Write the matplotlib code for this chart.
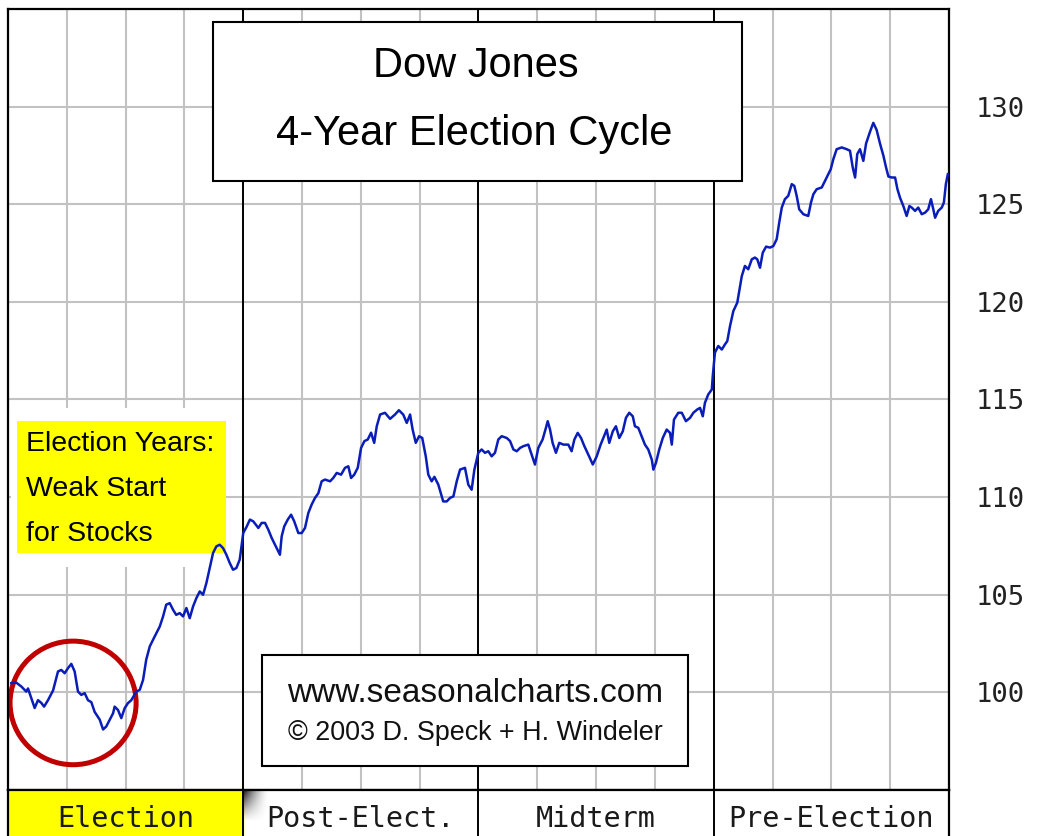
import matplotlib.pyplot as plt
from matplotlib.patches import Rectangle, Ellipse
import numpy as np

# Dow Jones average path over the 4-year cycle (x = months since start of election year)
election_m = [0.17, 0.42, 0.68, 0.93, 1.02, 1.19, 1.36, 1.53, 1.70, 1.84, 2.04, 2.30, 2.55, 2.72, 2.89,
              3.06, 3.23, 3.40, 3.57, 3.74, 3.91, 4.08, 4.25, 4.42, 4.68, 4.85, 5.01, 5.19, 5.36, 5.44,
              5.61, 5.78, 5.95, 6.12, 6.29, 6.54, 6.72, 6.89, 7.05, 7.23, 7.48, 7.74, 7.91, 8.07, 8.25,
              8.42, 8.58, 8.76, 8.93, 9.10, 9.27, 9.44, 9.61, 9.78, 9.95, 10.12, 10.29, 10.46, 10.63,
              10.80, 10.97, 11.14, 11.31, 11.48, 11.65, 11.82]
election_v = [100.47, 100.5, 100.3, 100.04, 100.2, 99.7, 99.2, 99.6, 99.46, 99.27, 99.6, 100.1, 101.07,
              101.15, 100.98, 101.24, 101.46, 101.07, 100.04, 99.87, 99.96, 99.6, 99.5, 99.0, 98.6, 98.1,
              98.25, 98.6, 98.93, 99.27, 99.1, 98.68, 99.19, 99.45, 99.6, 100.04, 100.13, 100.64, 101.67,
              102.35, 102.86, 103.37, 103.89, 104.49, 104.57, 104.23, 103.97, 104.06, 103.89, 104.32,
              103.8, 104.4, 104.83, 105.17, 105.0, 105.6, 106.37, 107.14, 107.48, 107.56, 107.39, 107.05,
              106.63, 106.28, 106.37, 106.8]

post_m = [12.00, 12.18, 12.34, 12.51, 12.77, 12.94, 13.11, 13.28, 13.45, 13.62, 13.79, 13.87, 13.96,
          14.09, 14.27, 14.44, 14.60, 14.81, 14.98, 15.15, 15.32, 15.49, 15.66, 15.83, 16.00, 16.17,
          16.43, 16.59, 16.77, 16.99, 17.19, 17.36, 17.50, 17.66, 17.84, 18.01, 18.18, 18.35, 18.52,
          18.68, 18.81, 18.98, 19.23, 19.49, 19.74, 19.94, 20.16, 20.34, 20.51, 20.64, 20.80, 20.97,
          21.13, 21.31, 21.44, 21.61, 21.75, 21.95, 22.20, 22.38, 22.55, 22.72, 22.89, 23.06, 23.31,
          23.48, 23.65, 23.79]
post_v = [108.16, 108.5, 108.85, 108.76, 108.42, 108.68, 108.68, 108.33, 107.91, 107.56, 107.22, 107.05,
          107.99, 108.5, 108.85, 109.1, 108.76, 108.16, 108.16, 108.42, 109.19, 109.62, 109.96, 110.2,
          110.81, 110.9, 110.81, 110.98, 111.24, 111.15, 111.5, 111.58, 110.98, 111.15, 111.5, 112.52,
          112.87, 112.95, 113.3, 112.78, 113.63, 114.23, 114.32, 114.01, 114.23, 114.45, 114.23, 113.8,
          114.23, 113.46, 112.78, 113.12, 113.03, 112.09, 111.15, 110.81, 111.04, 110.64, 109.78,
          109.78, 109.96, 110.04, 110.81, 111.41, 111.5, 110.64, 110.38, 111.41]

midterm_m = [23.99, 24.16, 24.33, 24.50, 24.67, 24.84, 25.01, 25.18, 25.44, 25.61, 25.78, 25.95, 26.12,
             26.29, 26.54, 26.68, 26.88, 27.05, 27.27, 27.44, 27.53, 27.65, 27.78, 27.95, 28.12, 28.33,
             28.58, 28.75, 28.89, 29.06, 29.23, 29.40, 29.60, 29.83, 30.03, 30.23, 30.40, 30.54, 30.67,
             30.85, 31.01, 31.18, 31.36, 31.52, 31.69, 31.87, 31.98, 32.15, 32.32, 32.49, 32.66, 32.84,
             32.92, 33.05, 33.22, 33.40, 33.60, 33.77, 33.86, 33.97, 34.19, 34.37, 34.58, 34.79, 34.96,
             35.16, 35.30, 35.44, 35.55, 35.72, 35.90]
midterm_v = [112.27, 112.44, 112.27, 112.35, 112.09, 112.27, 112.95, 113.12, 113.03, 112.87, 112.44,
             112.35, 112.52, 112.61, 112.69, 112.27, 111.67, 112.52, 112.95, 113.55, 113.89, 113.46,
             112.78, 112.27, 112.78, 112.69, 112.69, 112.35, 112.95, 113.29, 113.03, 112.61, 112.18,
             111.67, 112.09, 112.69, 113.12, 113.46, 112.78, 113.37, 113.63, 113.03, 113.37, 114.06,
             114.32, 114.14, 113.63, 113.55, 113.12, 112.69, 112.44, 111.92, 111.41, 111.75, 112.44,
             113.03, 113.46, 113.29, 112.69, 113.97, 114.32, 114.32, 113.89, 114.06, 114.32, 114.49,
             114.57, 114.14, 114.83, 115.26, 115.51]

pre_m = [35.95, 36.06, 36.23, 36.41, 36.57, 36.69, 36.83, 37.00, 37.20, 37.30, 37.43, 37.59, 37.76,
         37.94, 38.10, 38.22, 38.36, 38.50, 38.67, 38.87, 39.04, 39.21, 39.34, 39.47, 39.63, 39.80,
         39.98, 40.11, 40.23, 40.36, 40.57, 40.82, 40.96, 41.08, 41.25, 41.51, 41.76, 41.97, 42.10,
         42.27, 42.53, 42.78, 42.95, 43.09, 43.21, 43.32, 43.46, 43.63, 43.77, 43.97, 44.14, 44.31,
         44.48, 44.65, 44.79, 44.91, 45.08, 45.25, 45.37, 45.50, 45.67, 45.84, 45.98, 46.10, 46.27,
         46.43, 46.61, 46.78, 46.94, 47.08, 47.20, 47.29, 47.45, 47.63, 47.74, 47.84, 47.94]
pre_v = [116.2, 117.4, 117.74, 117.56, 117.82, 117.99, 118.76, 119.53, 119.96, 120.55, 121.32, 121.84,
         121.67, 122.18, 122.27, 122.18, 121.75, 122.52, 122.83, 122.78, 122.86, 123.21, 124.06, 124.83,
         125.26, 125.43, 126.03, 125.94, 125.43, 124.74, 124.49, 124.4, 125.09, 125.51, 125.77, 125.86,
         126.37, 126.8, 127.31, 127.82, 127.91, 127.82, 127.74, 126.88, 126.37, 127.57, 127.82, 127.22,
         128.11, 128.71, 129.17, 128.8, 128.11, 127.5, 126.88, 126.42, 126.37, 126.37, 125.77, 125.34,
         124.91, 124.4, 124.91, 124.83, 124.66, 124.83, 124.49, 124.57, 124.74, 125.26, 124.74, 124.31,
         124.66, 124.83, 125.09, 126.03, 126.54]

phases = ["Election", "Post-Elect.", "Midterm", "Pre-Election"]
ytick_vals = [100, 105, 110, 115, 120, 125, 130]

months = np.array(election_m + post_m + midterm_m + pre_m)
dow = np.array(election_v + post_v + midterm_v + pre_v)

W, H = 1048, 836


def fx(px):
    return px / W


def fy(py):
    return 1 - py / H


fig = plt.figure(figsize=(W / 100, H / 100), dpi=100)
fig.patch.set_facecolor("white")

ax = fig.add_axes([fx(8), fy(790), fx(949) - fx(8), fy(9) - fy(790)])
ax.set_xlim(0, 48)
ax.set_ylim(95, 135)
ax.set_xticks(np.arange(0, 49, 3))
ax.set_yticks(ytick_vals)
ax.set_axisbelow(True)
ax.grid(True, color="#c2c2c2", lw=1.5)
ax.tick_params(axis="x", length=0, labelbottom=False)
ax.tick_params(axis="y", length=0, left=False, labelleft=False, right=True, labelright=True,
               pad=19, labelsize=19.5, labelcolor="#222222")
for lab in ax.get_yticklabels():
    lab.set_fontfamily("DejaVu Sans Mono")
for s in ax.spines.values():
    s.set_linewidth(1.6)
for x in [12, 24, 36]:
    ax.axvline(x, color="black", lw=1.4, zorder=1)

# yellow note (with white margin that hides the grid)
ax.add_patch(Rectangle((fx(11), fy(567)), fx(226) - fx(11), fy(408) - fy(567),
                       transform=fig.transFigure, facecolor="white", edgecolor="none",
                       zorder=2, clip_on=False))
ax.add_patch(Rectangle((fx(17), fy(553)), fx(226) - fx(17), fy(421) - fy(553),
                       transform=fig.transFigure, facecolor="#ffff00", edgecolor="none",
                       zorder=2.1, clip_on=False))
for i, t in enumerate(["Election Years:", "Weak Start", "for Stocks"]):
    ax.text(fx(26), fy(444 + i * 45), t, transform=fig.transFigure, ha="left", va="center",
            fontsize=20.5, family="Liberation Sans", color="black", zorder=4)

# title box
ax.add_patch(Rectangle((fx(213), fy(181)), fx(742) - fx(213), fy(22) - fy(181),
                       transform=fig.transFigure, facecolor="white", edgecolor="black",
                       lw=1.5, zorder=2, clip_on=False))
ax.text(fx(476), fy(66), "Dow Jones", transform=fig.transFigure, ha="center", va="center",
        fontsize=30, family="Liberation Sans", zorder=4)
ax.text(fx(474), fy(134), "4-Year Election Cycle", transform=fig.transFigure, ha="center",
        va="center", fontsize=30, family="Liberation Sans", zorder=4)

# copyright box
ax.add_patch(Rectangle((fx(262), fy(766)), fx(688) - fx(262), fy(655) - fy(766),
                       transform=fig.transFigure, facecolor="white", edgecolor="black",
                       lw=1.5, zorder=2, clip_on=False))
ax.text(fx(475), fy(694), "www.seasonalcharts.com", transform=fig.transFigure, ha="center",
        va="center", fontsize=24, family="Liberation Sans", color="#111111", zorder=4)
ax.text(fx(475), fy(733), "\u00a9 2003 D. Speck + H. Windeler", transform=fig.transFigure,
        ha="center", va="center", fontsize=19.4, family="Liberation Sans", color="#111111", zorder=4)

# red circle around the weak start
ax.add_patch(Ellipse((3.32, 99.46), 6.43, 6.33, facecolor="none", edgecolor="#c00000",
                     lw=3.6, zorder=2.5))

ax.plot(months, dow, color="#0a1db8", lw=1.8, zorder=3)

# phase strip at the bottom
ax2 = fig.add_axes([fx(8), fy(848), fx(949) - fx(8), fy(790) - fy(848)])
ax2.set_xlim(0, 48)
ax2.set_ylim(0, 1)
ax2.set_xticks([])
ax2.set_yticks([])
ax2.axvspan(0, 12, ymin=0, ymax=1, color="#ffff00", zorder=0)
for x in [12, 24, 36]:
    ax2.axvline(x, color="black", lw=1.4)
for side in ["left", "right", "top"]:
    ax2.spines[side].set_linewidth(1.6)
ax2.spines["bottom"].set_visible(False)

# small shadow at the corner of the second cell
gx, gy = np.meshgrid(np.linspace(0, 1, 40), np.linspace(0, 1, 40))
shade = np.clip(1 - gx, 0, 1) ** 1.5 * np.clip(1 - gy, 0, 1) ** 1.2
rgba = np.zeros((40, 40, 4))
rgba[..., 3] = shade * 0.9
ax2.imshow(rgba, extent=(12.05, 13.3, 0.45, 1.0), aspect="auto", zorder=1,
           interpolation="bilinear")

for i, name in enumerate(phases):
    ax2.text(6 + 12 * i, 0.50, name, ha="center", va="center", fontsize=20.5,
             family="DejaVu Sans Mono", color="#1a1a1a")

fig.savefig("out.png", dpi=100, facecolor="white")
